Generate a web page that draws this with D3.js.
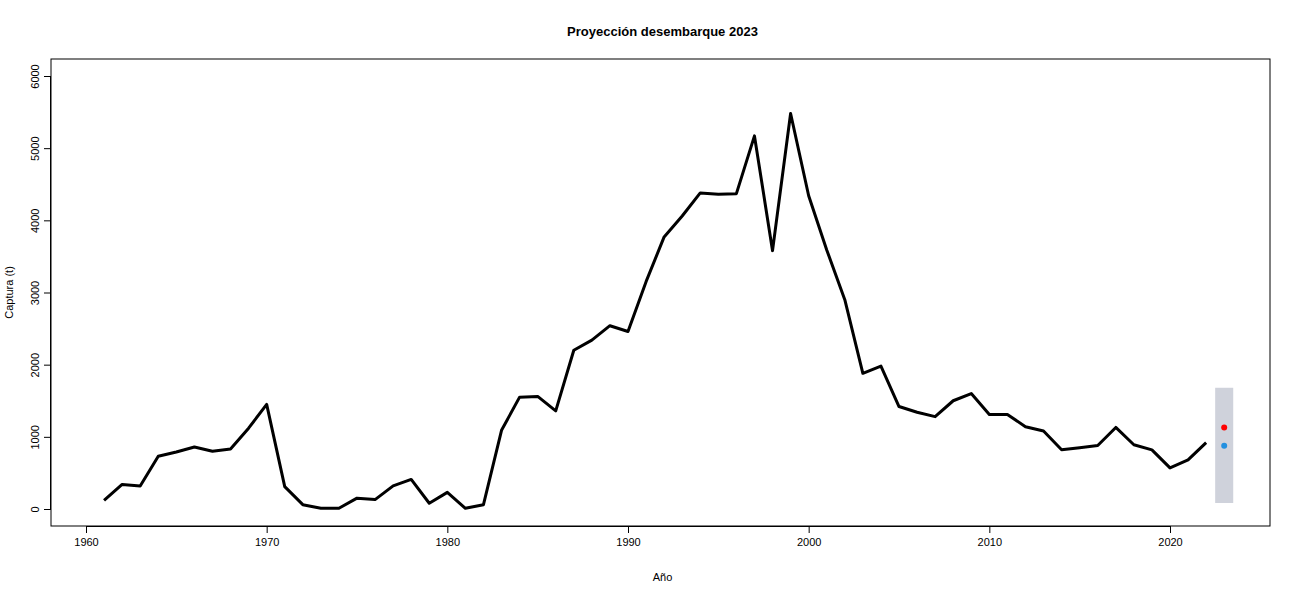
<!DOCTYPE html>
<html lang="es">
<head>
<meta charset="UTF-8">
<title>Proyección desembarque 2023</title>
<style>
    body { margin: 0; background: #fff; }
    text { font-family: "Liberation Sans", Arial, sans-serif; fill: #000; }
</style>
</head>
<body>
<script src="https://d3js.org/d3.v7.min.js"></script>
<script>
    const width = 1300
    const height = 600

    const years = d3.range(1961, 2023)
    const catch_t = [120, 340, 320, 730, 790, 860, 800, 830, 1120, 1450,
        310, 60, 10, 10, 150, 130, 320, 410, 80, 230,
        10, 60, 1090, 1550, 1560, 1360, 2200, 2340, 2540, 2460,
        3150, 3770, 4060, 4380, 4360, 4370, 5170, 3580, 5480, 4340,
        3590, 2900, 1880, 1980, 1420, 1340, 1280, 1500, 1600, 1310,
        1310, 1140, 1080, 820, 850, 880, 1130, 890, 820, 570,
        680, 920]
    const projYear = 2023
    const projHigh = 1130   // punto rojo
    const projLow = 875     // punto azul
    const projRange = [83, 1680]
    const xTicks = [1960, 1970, 1980, 1990, 2000, 2010, 2020]
    const yTicks = [0, 1000, 2000, 3000, 4000, 5000, 6000]

    const box = { left: 51, right: 1270, top: 59, bottom: 526 }

    // misma escala que el grafico R: 1960->86px, 2020->1170px
    const x = d3.scaleLinear()
        .domain([1960 + (box.left - 86) / (1084 / 60), 1960 + (box.right - 86) / (1084 / 60)])
        .range([box.left, box.right])
    const ky = 433 / 6000
    const y = d3.scaleLinear()
        .domain([(509 - box.bottom) / ky, (509 - box.top) / ky])
        .range([box.bottom, box.top])

    const svg = d3.select('body').append('svg')
        .attr('width', width).attr('height', height)

    svg.append('text')
        .attr('x', (box.left + box.right) / 2 + 2).attr('y', 36)
        .attr('text-anchor', 'middle')
        .style('font-weight', 'bold').style('font-size', '13px')
        .text('Proyección desembarque 2023')

    // banda de proyeccion
    svg.append('rect')
        .attr('x', x(projYear - 0.5)).attr('width', x(projYear + 0.5) - x(projYear - 0.5))
        .attr('y', y(projRange[1])).attr('height', y(projRange[0]) - y(projRange[1]))
        .attr('fill', '#cfd2db')

    svg.append('path')
        .datum(years.map((yr, i) => [yr, catch_t[i]]))
        .attr('d', d3.line().x(d => x(d[0])).y(d => y(d[1])))
        .attr('fill', 'none').attr('stroke', '#000').attr('stroke-width', 3)
        .attr('stroke-linejoin', 'round')

    svg.append('circle').attr('cx', x(projYear)).attr('cy', y(projHigh)).attr('r', 3).attr('fill', '#ff0000')
    svg.append('circle').attr('cx', x(projYear)).attr('cy', y(projLow)).attr('r', 3).attr('fill', '#2290e0')

    svg.append('rect')
        .attr('x', box.left).attr('y', box.top)
        .attr('width', box.right - box.left).attr('height', box.bottom - box.top)
        .attr('fill', 'none').attr('stroke', '#000')

    const xAxis = svg.append('g')
        .attr('transform', `translate(0,${box.bottom})`)
        .call(d3.axisBottom(x).tickValues(xTicks).tickSize(7).tickFormat(d3.format('d')))
    xAxis.select('.domain').attr('d', `M${x(1960)},0.5H${x(2020)}`)
    xAxis.selectAll('text').style('font-size', '11px').attr('dy', '0.95em')

    const yAxis = svg.append('g')
        .attr('transform', `translate(${box.left},0)`)
        .call(d3.axisLeft(y).tickValues(yTicks).tickSize(7).tickFormat(d3.format('d')))
    yAxis.select('.domain').attr('d', `M-0.5,${y(0)}V${y(6000)}`)
    yAxis.selectAll('text')
        .style('font-size', '11px')
        .attr('text-anchor', 'middle')
        .attr('x', 0).attr('y', 0).attr('dy', '0')
        .attr('transform', 'translate(-12,0) rotate(-90)')

    svg.append('text')
        .attr('x', (box.left + box.right) / 2 + 2).attr('y', 581)
        .attr('text-anchor', 'middle').style('font-size', '11px')
        .text('Año')
    svg.append('text')
        .attr('transform', `translate(13,${(box.top + box.bottom) / 2}) rotate(-90)`)
        .attr('text-anchor', 'middle').style('font-size', '11px')
        .text('Captura (t)')
</script>
</body>
</html>
